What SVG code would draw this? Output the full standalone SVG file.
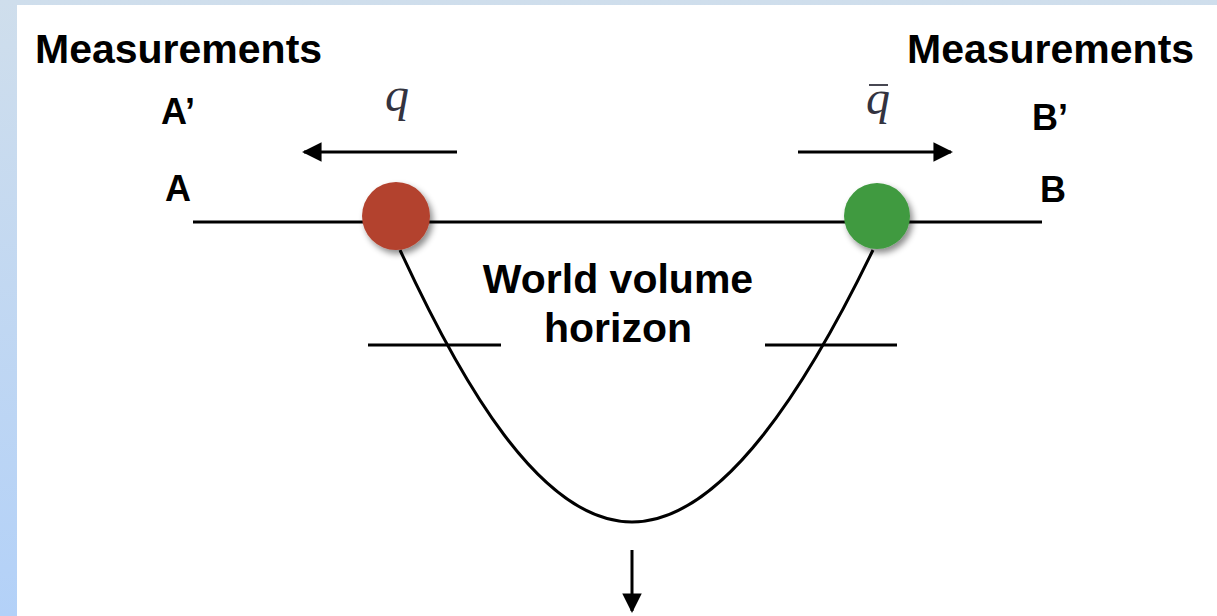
<svg xmlns="http://www.w3.org/2000/svg" width="1217" height="616" viewBox="0 0 1217 616">
<style>
.lbl{font-family:"Liberation Sans",Arial,sans-serif;font-weight:bold;fill:#000}
.big{font-size:41px}
.pt{font-size:36px}
.math{font-family:"Liberation Serif","Times New Roman",serif;font-style:italic;font-size:48px;fill:#33333f}
.ln{stroke:#000;stroke-width:3;fill:none}
</style>
<defs>
<linearGradient id="bg" x1="0" y1="0" x2="0" y2="1">
<stop offset="0" stop-color="#cfdeec"/>
<stop offset="1" stop-color="#b3d1f8"/>
</linearGradient>
<filter id="sh" x="-30%" y="-30%" width="170%" height="170%">
<feDropShadow dx="3" dy="4" stdDeviation="3" flood-color="#000" flood-opacity="0.45"/>
</filter>
<marker id="ah" viewBox="0 0 10 10" refX="9" refY="5" markerWidth="6.5" markerHeight="6.5" orient="auto" markerUnits="strokeWidth">
<path d="M0,0 L10,5 L0,10 Z" fill="#000"/>
</marker>
</defs>
<rect x="0" y="0" width="1217" height="616" fill="url(#bg)"/>
<rect x="17" y="5" width="1200" height="611" fill="#fff"/>

<g id="connectors">
<line id="string" class="ln" x1="193" y1="222" x2="1042" y2="222"/>
<path id="worldvolume" class="ln" d="M400,250 C460,380 540,522 632,522 C724,522 810,380 873,250"/>
<line id="horizon-left" class="ln" x1="368" y1="345" x2="501" y2="345"/>
<line id="horizon-right" class="ln" x1="765" y1="345" x2="897" y2="345"/>
<line id="arrow-q" class="ln" x1="457" y1="152" x2="304" y2="152" marker-end="url(#ah)"/>
<line id="arrow-qbar" class="ln" x1="798" y1="152" x2="951" y2="152" marker-end="url(#ah)"/>
<line id="arrow-down" class="ln" x1="632" y1="550" x2="632" y2="611" marker-end="url(#ah)"/>
</g>

<g id="quark">
<circle cx="396" cy="216" r="34" fill="#b3432f" filter="url(#sh)"/>
</g>
<g id="antiquark">
<circle cx="877" cy="216" r="33" fill="#409a40" filter="url(#sh)"/>
</g>

<g id="labels">
<text class="lbl big" x="35" y="63">Measurements</text>
<text class="lbl big" x="907" y="63">Measurements</text>
<text class="lbl pt" x="161" y="124">A’</text>
<text class="lbl pt" x="165" y="201">A</text>
<text class="lbl pt" x="1032" y="130">B’</text>
<text class="lbl pt" x="1040" y="202">B</text>
<text class="math" x="385" y="111">q</text>
<text class="math" x="866" y="114">q</text>
<line x1="869" y1="85" x2="888" y2="85" stroke="#33333f" stroke-width="1.8"/>
<text class="lbl big" x="618" y="293" text-anchor="middle">World volume</text>
<text class="lbl big" x="618" y="342" text-anchor="middle">horizon</text>
</g>
</svg>
